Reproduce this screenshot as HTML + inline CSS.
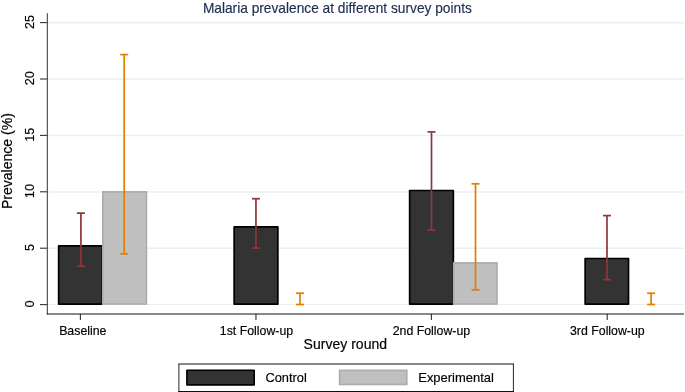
<!DOCTYPE html>
<html><head><meta charset="utf-8"><title>Malaria prevalence</title>
<style>
html,body{margin:0;padding:0;background:#fff;}
body{width:685px;height:392px;overflow:hidden;font-family:"Liberation Sans",sans-serif;}
svg{display:block;will-change:transform;transform:translateZ(0);}
text{font-family:"Liberation Sans",sans-serif;stroke:#000;stroke-width:0.17px;stroke-linejoin:round;}
text.ttl{stroke:#1e2d53;}
</style></head><body>
<svg width="685" height="392" viewBox="0 0 685 392">
<rect x="0" y="0" width="685" height="392" fill="#ffffff"/>
<g stroke="#e8f0f2" stroke-width="1.5">
<line x1="48.5" x2="684" y1="304.45" y2="304.45" stroke-width="1.1"/>
<line x1="48.5" x2="684" y1="248.30" y2="248.30"/>
<line x1="48.5" x2="684" y1="191.90" y2="191.90"/>
<line x1="48.5" x2="684" y1="135.50" y2="135.50"/>
<line x1="48.5" x2="684" y1="79.10" y2="79.10"/>
<line x1="48.5" x2="684" y1="22.70" y2="22.70"/>
</g>
<rect x="58.65" y="245.79" width="43.7" height="58.26" fill="#333333" stroke="#000000" stroke-width="1.7" stroke-linejoin="round"/>
<rect x="234.15" y="226.82" width="43.7" height="77.23" fill="#333333" stroke="#000000" stroke-width="1.7" stroke-linejoin="round"/>
<rect x="409.65" y="190.52" width="43.7" height="113.53" fill="#333333" stroke="#000000" stroke-width="1.7" stroke-linejoin="round"/>
<rect x="585.15" y="258.50" width="43.35" height="45.55" fill="#333333" stroke="#000000" stroke-width="1.7" stroke-linejoin="round"/>
<rect x="102.85" y="191.85" width="43.54" height="112.20" fill="#c0c0c0" stroke="#adadad" stroke-width="1.7"/>
<rect x="453.75" y="262.91" width="43.16" height="41.14" fill="#c0c0c0" stroke="#adadad" stroke-width="1.7"/>
<g stroke="#90353b" stroke-width="1.7" fill="none"><line x1="80.9" x2="80.9" y1="213.13" y2="266.15"/><line x1="76.9" x2="84.9" y1="213.13" y2="213.13"/><line x1="76.9" x2="84.9" y1="266.15" y2="266.15"/></g>
<g stroke="#e37e00" stroke-width="1.7" fill="none"><line x1="124.2" x2="124.2" y1="54.59" y2="253.85"/><line x1="120.2" x2="128.2" y1="54.59" y2="54.59"/><line x1="120.2" x2="128.2" y1="253.85" y2="253.85"/></g>
<g stroke="#90353b" stroke-width="1.7" fill="none"><line x1="255.95" x2="255.95" y1="198.69" y2="248.10"/><line x1="251.95" x2="259.95" y1="198.69" y2="198.69"/><line x1="251.95" x2="259.95" y1="248.10" y2="248.10"/></g>
<g stroke="#e37e00" stroke-width="1.7" fill="none"><line x1="300.0" x2="300.0" y1="293.22" y2="304.50"/><line x1="296.0" x2="304.0" y1="293.22" y2="293.22"/><line x1="296.0" x2="304.0" y1="304.50" y2="304.50"/></g>
<g stroke="#90353b" stroke-width="1.7" fill="none"><line x1="431.5" x2="431.5" y1="131.92" y2="230.05"/><line x1="427.5" x2="435.5" y1="131.92" y2="131.92"/><line x1="427.5" x2="435.5" y1="230.05" y2="230.05"/></g>
<g stroke="#e37e00" stroke-width="1.7" fill="none"><line x1="475.5" x2="475.5" y1="183.80" y2="289.84"/><line x1="471.5" x2="479.5" y1="183.80" y2="183.80"/><line x1="471.5" x2="479.5" y1="289.84" y2="289.84"/></g>
<g stroke="#90353b" stroke-width="1.7" fill="none"><line x1="607.0" x2="607.0" y1="215.61" y2="279.68"/><line x1="603.0" x2="611.0" y1="215.61" y2="215.61"/><line x1="603.0" x2="611.0" y1="279.68" y2="279.68"/></g>
<g stroke="#e37e00" stroke-width="1.7" fill="none"><line x1="651.1" x2="651.1" y1="293.22" y2="304.50"/><line x1="647.1" x2="655.1" y1="293.22" y2="293.22"/><line x1="647.1" x2="655.1" y1="304.50" y2="304.50"/></g>
<line x1="46.8" x2="684" y1="314" y2="314" stroke="#000" stroke-width="1" opacity="0.93"/>
<g stroke="#000000" stroke-width="1.1" opacity="0.8">
<line x1="47.3" x2="47.3" y1="13.2" y2="314.4" stroke-width="1"/>
<line x1="40" x2="47.3" y1="304.60" y2="304.60"/>
<line x1="40" x2="47.3" y1="248.20" y2="248.20"/>
<line x1="40" x2="47.3" y1="191.80" y2="191.80"/>
<line x1="40" x2="47.3" y1="135.40" y2="135.40"/>
<line x1="40" x2="47.3" y1="79.00" y2="79.00"/>
<line x1="40" x2="47.3" y1="22.60" y2="22.60"/>
<line x1="80.4" x2="80.4" y1="314" y2="320"/>
<line x1="255.95" x2="255.95" y1="314" y2="320"/>
<line x1="431.4" x2="431.4" y1="314" y2="320"/>
<line x1="607.2" x2="607.2" y1="314" y2="320"/>
</g>
<text transform="translate(34,303.90) rotate(-90)" text-anchor="middle" font-size="12.7" fill="#000">0</text>
<text transform="translate(34,247.50) rotate(-90)" text-anchor="middle" font-size="12.7" fill="#000">5</text>
<text transform="translate(34,191.10) rotate(-90)" text-anchor="middle" font-size="12.7" fill="#000">10</text>
<text transform="translate(34,134.70) rotate(-90)" text-anchor="middle" font-size="12.7" fill="#000">15</text>
<text transform="translate(34,78.30) rotate(-90)" text-anchor="middle" font-size="12.7" fill="#000">20</text>
<text transform="translate(34,21.90) rotate(-90)" text-anchor="middle" font-size="12.7" fill="#000">25</text>
<text x="82.8" y="334.6" text-anchor="middle" font-size="12.33" fill="#000">Baseline</text>
<text x="256.5" y="334.6" text-anchor="middle" font-size="12.33" fill="#000">1st Follow-up</text>
<text x="431.4" y="334.6" text-anchor="middle" font-size="12.33" fill="#000">2nd Follow-up</text>
<text x="607.35" y="334.6" text-anchor="middle" font-size="12.33" fill="#000">3rd Follow-up</text>
<text x="345.35" y="348.7" text-anchor="middle" font-size="14.04" fill="#000">Survey round</text>
<text transform="translate(11.6,161.1) rotate(-90)" text-anchor="middle" font-size="14.03" fill="#000">Prevalence (%)</text>
<text x="337.35" y="12.7" text-anchor="middle" class="ttl" font-size="13.72" fill="#1e2d53">Malaria prevalence at different survey points</text>
<rect x="179" y="364" width="334.4" height="27.5" fill="#fff"/>
<g stroke="#000" stroke-width="1"><line x1="178.4" x2="513.9" y1="364" y2="364" opacity="0.93"/><line x1="178.9" x2="178.9" y1="364" y2="392" opacity="0.85"/><line x1="513.4" x2="513.4" y1="364" y2="392" opacity="0.85"/><line x1="178.4" x2="513.9" y1="391.5" y2="391.5" opacity="0.94"/></g>
<rect x="186.9" y="370.2" width="67.3" height="14.7" fill="#333333" stroke="#000" stroke-width="1.6" stroke-linejoin="round"/>
<text x="265.45" y="382.1" font-size="12.82" fill="#000">Control</text>
<rect x="339.65" y="370.35" width="67.1" height="14.1" fill="#c0c0c0" stroke="#adadad" stroke-width="1.7"/>
<text x="418.25" y="382.1" font-size="12.96" fill="#000">Experimental</text>
</svg></body></html>
